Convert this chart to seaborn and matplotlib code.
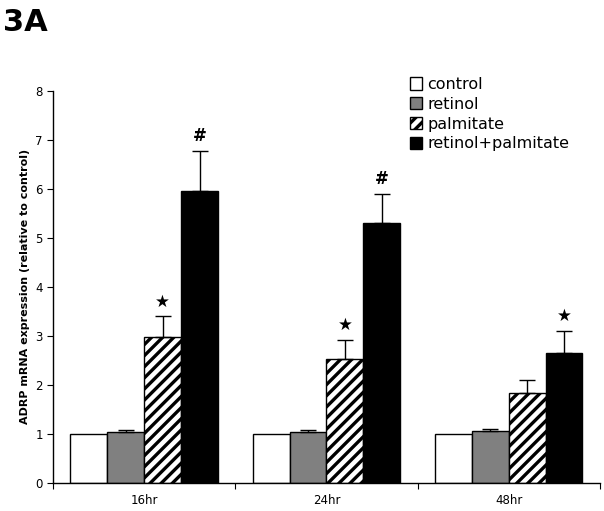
import pandas as pd
import matplotlib
matplotlib.use("Agg")
import matplotlib.pyplot as plt
from matplotlib.patches import Patch
import seaborn as sns

# values
times = ['16hr', '24hr', '48hr']
treatments = ['control', 'retinol', 'palmitate', 'retinol+palmitate']
control = [1.0, 1.0, 1.0]
retinol = [1.03, 1.03, 1.05]
palmitate = [2.97, 2.53, 1.83]
combo = [5.95, 5.30, 2.65]
control_err = [0.0, 0.0, 0.0]
retinol_err = [0.05, 0.05, 0.06]
palmitate_err = [0.43, 0.39, 0.27]
combo_err = [0.83, 0.60, 0.45]
# significance marks per (time, treatment)
marks = {('16hr', 'palmitate'): '\u2605', ('16hr', 'retinol+palmitate'): '#',
         ('24hr', 'palmitate'): '\u2605', ('24hr', 'retinol+palmitate'): '#',
         ('48hr', 'retinol+palmitate'): '\u2605'}

rows = []
for name, vals, errs in zip(treatments, [control, retinol, palmitate, combo],
                            [control_err, retinol_err, palmitate_err, combo_err]):
    for t, v, e in zip(times, vals, errs):
        rows.append({'time': t, 'treatment': name, 'value': v, 'err': e})
df = pd.DataFrame(rows)

sns.set_style("white")
plt.rcParams['font.family'] = ['DejaVu Sans']
plt.rcParams['hatch.linewidth'] = 2.4
plt.rcParams['text.color'] = 'black'
plt.rcParams['xtick.color'] = 'black'
plt.rcParams['ytick.color'] = 'black'
plt.rcParams['axes.labelcolor'] = 'black'

colors = {'control': 'white', 'retinol': '#808080', 'palmitate': 'white',
          'retinol+palmitate': 'black'}

fig = plt.figure(figsize=(6.04, 5.11), dpi=100)
ax = fig.add_axes([0.088, 0.055, 0.905, 0.767])

sns.barplot(data=df, x='time', y='value', hue='treatment', order=times,
            hue_order=treatments, palette=colors, errorbar=None, width=0.81,
            gap=0, edgecolor='black', linewidth=1.0, legend=False, ax=ax)

# patches come out grouped by hue, then by time
for i, name in enumerate(treatments):
    sub = df[df.treatment == name].set_index('time').loc[times]
    for j, t in enumerate(times):
        bar = ax.patches[i * len(times) + j]
        if name == 'palmitate':
            bar.set_hatch('///')
        x = bar.get_x() + bar.get_width() / 2
        v = sub.loc[t, 'value']
        e = sub.loc[t, 'err']
        if e > 0:
            ax.errorbar(x, v, yerr=[[0], [e]], fmt='none', ecolor='black',
                        elinewidth=1.0, capsize=6, capthick=1.0)
        m = marks.get((t, name))
        if m:
            ax.text(x, v + e + 0.12, m, ha='center', va='bottom',
                    fontsize=12, fontweight='bold')

ax.set_ylim(0, 8)
ax.set_xlim(-0.5, 2.5)
ax.set_yticks(range(0, 9))
ax.set_xticks([-0.5, 0.5, 1.5, 2.5], minor=False)
ax.set_xticklabels([])
ax.set_xticks([0, 1, 2], minor=True)
ax.set_xticklabels(times, minor=True)
ax.tick_params(axis='x', which='minor', length=0, labelsize=8.5, pad=8)
ax.tick_params(axis='x', which='major', length=4, direction='out', bottom=True)
ax.tick_params(axis='y', length=4, direction='out', left=True, labelsize=8.5)
ax.set_xlabel('')
ax.set_ylabel('ADRP mRNA expression (relative to control)', fontsize=8,
              fontweight='bold')
sns.despine(ax=ax)
for s in ['left', 'bottom']:
    ax.spines[s].set_color('black')
    ax.spines[s].set_linewidth(1.0)

# legend
handles = [Patch(facecolor=colors[n], edgecolor='black',
                 hatch='///' if n == 'palmitate' else None) for n in treatments]
fig.legend(handles, treatments, loc='upper left', bbox_to_anchor=(0.665, 0.865),
           frameon=False, fontsize=11.5, handlelength=0.8, handleheight=0.8,
           handletextpad=0.3, labelspacing=0.3, borderpad=0)

fig.text(0.005, 0.985, '3A', fontsize=22, fontweight='heavy', va='top', ha='left')

fig.savefig('out.png', dpi=100)
